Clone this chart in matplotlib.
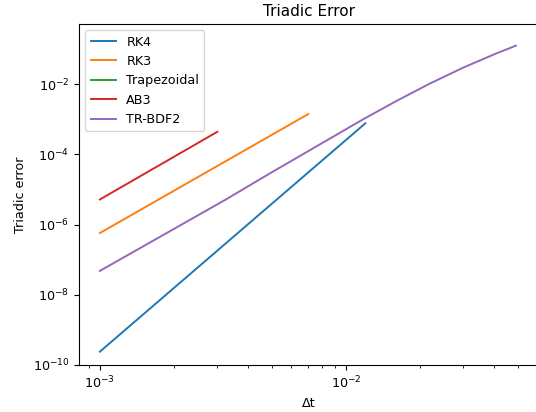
""" triadic error convergence of the time steppers """

import matplotlib
matplotlib.use('Agg')
import matplotlib.pyplot as plt

matplotlib.rcParams['font.size'] = 9.2
matplotlib.rcParams['axes.titlesize'] = 11
matplotlib.rcParams['lines.linewidth'] = 1.4

# ### values (dt, error)
dt_rk4 = [1.0e-3, 1.2e-2]
err_rk4 = [2.4e-10, 7.7e-4]

dt_rk3 = [1.0e-3, 7.03e-3]
err_rk3 = [5.75e-7, 1.41e-3]

dt_trap = []
err_trap = []

dt_ab3 = [1.0e-3, 3.0e-3]
err_ab3 = [5.2e-6, 4.4e-4]

dt_trbdf2 = [1.0e-3, 3.22e-3, 4.91e-3, 1.175e-2, 1.607e-2, 2.193e-2,
             3.0e-2, 4.10e-2, 4.91e-2]
err_trbdf2 = [4.8e-8, 5.0e-6, 2.88e-5, 1.0e-3, 3.34e-3, 1.04e-2,
              2.97e-2, 7.6e-2, 1.25e-1]

series = [
    ('RK4', dt_rk4, err_rk4),
    ('RK3', dt_rk3, err_rk3),
    ('Trapezoidal', dt_trap, err_trap),
    ('AB3', dt_ab3, err_ab3),
    ('TR-BDF2', dt_trbdf2, err_trbdf2),
]

fig = plt.figure(figsize=(5.36, 4.12), dpi=100)
ax = fig.add_axes([79 / 536, 47 / 412, 460 / 536, 341 / 412])

for name, x, y in series:
    ax.plot(x, y, label=name)

ax.set_xscale('log')
ax.set_yscale('log')
ax.set_xlim(10 ** -3.085, 10 ** -1.215)
ax.set_ylim(1e-10, 10 ** -0.285)
ax.set_xlabel('Δt')
ax.set_ylabel('Triadic error')
ax.set_title('Triadic Error')
ax.legend(loc='upper left')

fig.savefig('out.png', dpi=100)
